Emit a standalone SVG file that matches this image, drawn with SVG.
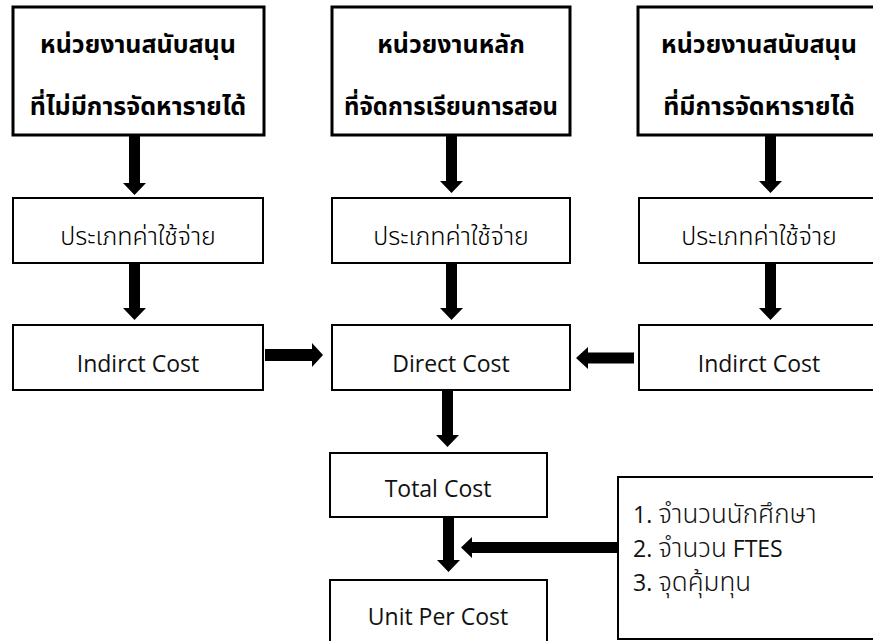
<svg xmlns="http://www.w3.org/2000/svg" width="873" height="641" viewBox="0 0 873 641">
<style>
.bg{fill:#fff}
.hb{fill:#fff;stroke:#000;stroke-width:3}
.nb{fill:#fff;stroke:#000;stroke-width:2}
.t{font-family:"Noto Sans Thai","Leelawadee UI","Noto Sans","DejaVu Sans",sans-serif;font-size:25px;font-weight:300;fill:#000;text-anchor:middle}
.e{font-family:"Open Sans","Noto Sans",sans-serif;font-size:23px;font-weight:normal;fill:#111;text-anchor:middle}
.th{font-family:"Noto Sans Thai","Leelawadee UI","Noto Sans","DejaVu Sans",sans-serif;font-size:25px;font-weight:bold;fill:#000;text-anchor:middle}
.tl{font-family:"Open Sans","Noto Sans",sans-serif;font-size:23px;font-weight:normal;fill:#111}
.tt{font-family:"Noto Sans Thai","Leelawadee UI","Noto Sans","DejaVu Sans",sans-serif;font-size:26px;font-weight:300}
.a{fill:#000}
</style>
<rect class="bg" x="0" y="0" width="873" height="641"/>
<g id="n-support-noincome">
<rect class="hb" x="13" y="7" width="251" height="128"/>
<text class="th" x="138" y="53">หน่วยงานสนับสนุน</text>
<text class="th" x="138" y="115">ที่ไม่มีการจัดหารายได้</text>
</g>
<g id="n-main">
<rect class="hb" x="332" y="7" width="238" height="128"/>
<text class="th" x="451" y="53">หน่วยงานหลัก</text>
<text class="th" x="451" y="115" textLength="214" lengthAdjust="spacingAndGlyphs">ที่จัดการเรียนการสอน</text>
</g>
<g id="n-support-income">
<rect class="hb" x="638" y="7" width="242" height="128"/>
<text class="th" x="759" y="53">หน่วยงานสนับสนุน</text>
<text class="th" x="759" y="115">ที่มีการจัดหารายได้</text>
</g>
<g id="n-type-left">
<rect class="nb" x="13" y="198" width="250" height="65"/>
<text class="t" x="138" y="245">ประเภทค่าใช้จ่าย</text>
</g>
<g id="n-type-mid">
<rect class="nb" x="332" y="198" width="238" height="65"/>
<text class="t" x="451" y="245">ประเภทค่าใช้จ่าย</text>
</g>
<g id="n-type-right">
<rect class="nb" x="639" y="198" width="241" height="65"/>
<text class="t" x="759" y="245">ประเภทค่าใช้จ่าย</text>
</g>
<g id="n-indirect-left">
<rect class="nb" x="13" y="325" width="250" height="65"/>
<text class="e" x="138" y="372">Indirct Cost</text>
</g>
<g id="n-direct">
<rect class="nb" x="332" y="325" width="238" height="65"/>
<text class="e" x="451" y="372">Direct Cost</text>
</g>
<g id="n-indirect-right">
<rect class="nb" x="639" y="325" width="241" height="65"/>
<text class="e" x="759" y="372">Indirct Cost</text>
</g>
<g id="n-total">
<rect class="nb" x="330" y="453" width="217" height="64"/>
<text class="e" x="438" y="497">Total Cost</text>
</g>
<g id="n-unit">
<rect class="nb" x="330" y="580" width="217" height="70"/>
<text class="e" x="438" y="625">Unit Per Cost</text>
</g>
<g id="n-factors">
<rect class="nb" x="618" y="477" width="262" height="162"/>
<text class="tl"><tspan x="633" y="523">1. <tspan class="tt">จำนวนนักศึกษา</tspan></tspan><tspan x="633" y="557">2. <tspan class="tt">จำนวน</tspan> FTES</tspan><tspan x="633" y="591">3. <tspan class="tt">จุดคุ้มทุน</tspan></tspan></text>
</g>
<g id="connectors">
<polygon class="a" points="129,136 140,136 140,183 146,183 134.5,195 123,183 129,183"/>
<polygon class="a" points="129,264 140,264 140,308 146,308 134.5,320 123,308 129,308"/>
<polygon class="a" points="446,136 457,136 457,181 463,181 451.5,193 440,181 446,181"/>
<polygon class="a" points="446,264 457,264 457,308 463,308 451.5,320 440,308 446,308"/>
<polygon class="a" points="765,136 776,136 776,181 782,181 770.5,193 759,181 765,181"/>
<polygon class="a" points="765,264 776,264 776,308 782,308 770.5,320 759,308 765,308"/>
<polygon class="a" points="442,391 453,391 453,435 459,435 447.5,447 436,435 442,435"/>
<polygon class="a" points="443,518 454,518 454,560 460,560 448.5,572 437,560 443,560"/>
<polygon class="a" points="265,349 312,349 312,343 323,355 312,367 312,361 265,361"/>
<polygon class="a" points="634,352.5 588,352.5 588,347 576,358 588,369 588,363.5 634,363.5"/>
<polygon class="a" points="617,542 472,542 472,537 461,547.5 472,558 472,553 617,553"/>
</g>
</svg>
